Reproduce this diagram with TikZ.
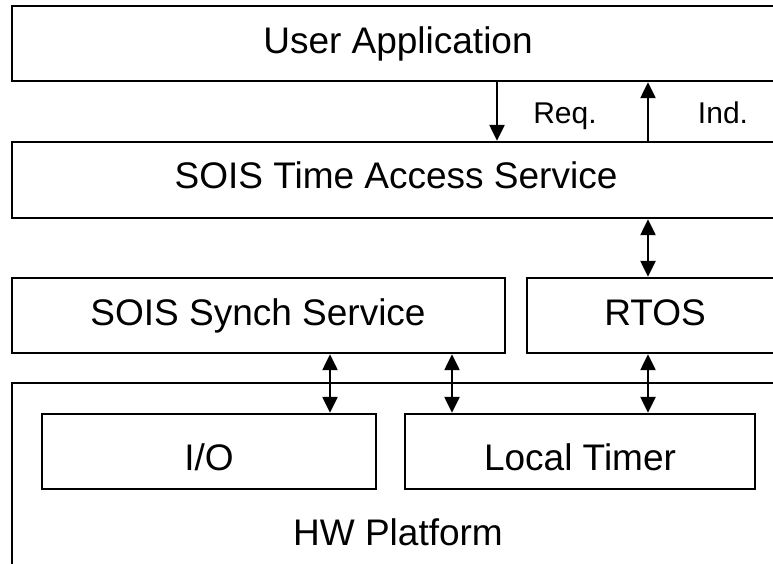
\documentclass[tikz,border=0pt]{standalone}
\usepackage{fontspec}
\setmainfont{Liberation Sans}
\usetikzlibrary{arrows.meta}

\tikzset{
    layer/.style={draw, line width=2.4pt, inner sep=0pt},
    layername/.style={font=\fontsize{37}{44}\selectfont, anchor=base, inner sep=0pt},
    tag/.style={font=\fontsize{30}{36}\selectfont, anchor=base, inner sep=0pt},
    link/.style={line width=2.4pt, -{Triangle[length=16pt,width=15pt]}},
    both/.style={line width=2.4pt, {Triangle[length=16pt,width=15pt]}-{Triangle[length=16pt,width=15pt]}},
}

\begin{document}
\begin{tikzpicture}[x=1pt, y=-1pt]
    \useasboundingbox (0,0) rectangle (773,563);
    \clip (0,0) rectangle (773,563);

    % Layers
    \node[layer, minimum width=773pt, minimum height=75pt] (ua) at (398.5,43.5) {};
    \node[layer, minimum width=773pt, minimum height=76pt] (tas) at (398.5,180) {};
    \node[layer, minimum width=493pt, minimum height=75pt] (sync) at (258.5,315.5) {};
    \node[layer, minimum width=256pt, minimum height=75pt] (rtos) at (655,315.5) {};

    % HW platform and its parts
    \node[layer, minimum width=773pt, minimum height=234pt] (hw) at (398.5,500) {};
    \node[layer, minimum width=334pt, minimum height=75pt] (io) at (209,451.5) {};
    \node[layer, minimum width=350pt, minimum height=75pt] (timer) at (580,451.5) {};

    % Layer names
    \node[layername] (uaname) at (398,53) {User Application};
    \node[layername] (tasname) at (396,188) {SOIS Time Access Service};
    \node[layername] (syncname) at (258,325) {SOIS Synch Service};
    \node[layername] (rtosname) at (655,325) {RTOS};
    \node[layername] (ioname) at (209,470) {I/O};
    \node[layername] (timername) at (580,470) {Local Timer};
    \node[layername] (hwname) at (398,545) {HW Platform};

    % Arrow positions
    \coordinate (xreq) at (497,0);
    \coordinate (xind) at (648,0);
    \coordinate (xio) at (330,0);
    \coordinate (xtim) at (452,0);

    % Primitives
    \draw[link] (ua.south -| xreq) -- (tas.north -| xreq);
    \draw[link] (tas.north -| xind) -- (ua.south -| xind);
    \node[tag] (req) at (565,123) {Req.};
    \node[tag] (ind) at (723,123) {Ind.};

    % Interfaces
    \draw[both] (tas.south -| xind) -- (rtos.north -| xind);
    \draw[both] (sync.south -| xio) -- (io.north -| xio);
    \draw[both] (sync.south -| xtim) -- (timer.north -| xtim);
    \draw[both] (rtos.south -| xind) -- (timer.north -| xind);
\end{tikzpicture}
\end{document}
